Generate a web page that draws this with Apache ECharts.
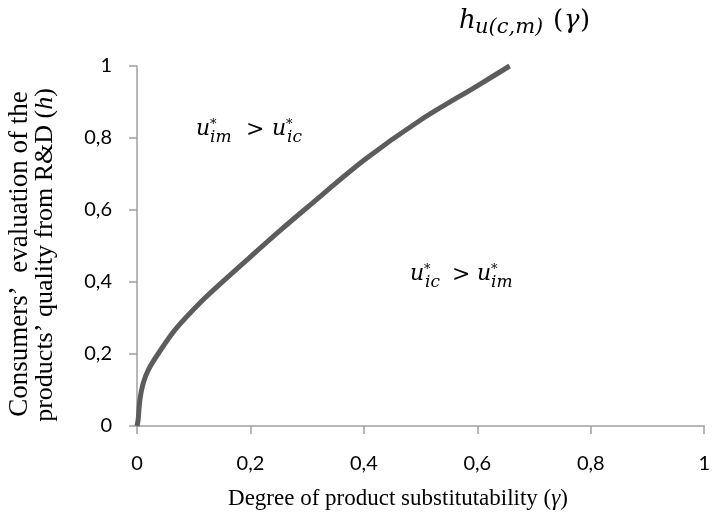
<!DOCTYPE html>
<html>
<head>
<meta charset="utf-8">
<script src="https://cdn.jsdelivr.net/npm/echarts@6/dist/echarts.min.js"></script>
<style>
  html, body { margin: 0; padding: 0; background: #fff; }
  #chart { width: 713px; height: 522px; }
</style>
</head>
<body>
<div id="chart"></div>
<script>
// curve h_u(c,m)(gamma)
var gammaVals = [0, 0.002, 0.005, 0.011, 0.02, 0.037, 0.067, 0.113, 0.154, 0.2, 0.25, 0.3, 0.4, 0.5, 0.6, 0.657];
var hVals     = [0, 0.017, 0.072, 0.119, 0.156, 0.200, 0.267, 0.345, 0.405, 0.470, 0.540, 0.607, 0.738, 0.850, 0.945, 1.0];
var xTicks = [0, 0.2, 0.4, 0.6, 0.8, 1];
var yTicks = [0, 0.2, 0.4, 0.6, 0.8, 1];

var serif = '"Liberation Serif", "Times New Roman", serif';
var mathFont = '"DejaVu Serif", serif';
var sans = 'Lato, "Open Sans", sans-serif';
var axisGray = '#a0a0a0';

var curve = [];
for (var i = 0; i < gammaVals.length; i++) {
    curve.push([gammaVals[i], hVals[i]]);
}

function comma(v) {
    return String(v).replace('.', ',');
}

// small pieces of math text placed one by one, y is the baseline
function mathBits(bits) {
    return bits.map(function (b) {
        return {
            type: 'text',
            x: b[1],
            y: b[2] + Math.round(b[3] * 0.23),
            style: {
                text: b[0],
                font: (b[4] ? 'normal ' : 'italic ') + b[3] + 'px ' + mathFont,
                fill: '#000',
                textAlign: 'left',
                textVerticalAlign: 'bottom'
            }
        };
    });
}

var graphics = []
    .concat(mathBits([
        ['h', 459, 28, 26],
        ['u(c,m)', 475, 33, 21],
        ['(', 553, 28, 26, true],
        ['γ', 564, 28, 26],
        [')', 580, 28, 26, true]
    ]))
    .concat(mathBits([
        ['u', 196, 135, 22],
        ['*', 210, 128, 13, true],
        ['im', 210, 142, 17],
        ['>', 246, 136, 22, true],
        ['u', 272, 135, 22],
        ['*', 286, 128, 13, true],
        ['ic', 287, 142, 17]
    ]))
    .concat(mathBits([
        ['u', 410, 280, 22],
        ['*', 424, 273, 13, true],
        ['ic', 425, 287, 17],
        ['>', 452, 281, 22, true],
        ['u', 477, 280, 22],
        ['*', 491, 273, 13, true],
        ['im', 491, 287, 17]
    ]));

graphics.push({
    type: 'text',
    x: 20, y: 254,
    rotation: Math.PI / 2,
    style: {
        text: 'Consumers\u2019  evaluation of the',
        font: '27px ' + serif,
        fill: '#000',
        textAlign: 'center',
        textVerticalAlign: 'middle'
    }
});
graphics.push({
    type: 'text',
    x: 45, y: 255,
    rotation: Math.PI / 2,
    style: {
        text: '{n|products\u2019 quality from R&D (}{i|h}{n|)}',
        rich: {
            n: { font: '26px ' + serif, fill: '#000' },
            i: { font: 'italic 26px ' + serif, fill: '#000' }
        },
        textAlign: 'center',
        textVerticalAlign: 'middle'
    }
});
graphics.push({
    type: 'text',
    x: 398, y: 499,
    style: {
        text: '{n|Degree of product substitutability (}{i|γ}{n|)}',
        rich: {
            n: { font: '23px ' + serif, fill: '#000' },
            i: { font: 'italic 23px ' + serif, fill: '#000' }
        },
        textAlign: 'center',
        textVerticalAlign: 'middle'
    }
});

var chart = echarts.init(document.getElementById('chart'));
chart.setOption({
    animation: false,
    backgroundColor: '#fff',
    grid: { left: 137, right: 6, top: 66, bottom: 96 },
    xAxis: {
        type: 'value',
        min: xTicks[0],
        max: xTicks[xTicks.length - 1],
        interval: 0.2,
        axisLine: { show: true, lineStyle: { color: axisGray, width: 1.5 } },
        axisTick: { show: true, inside: false, length: 8, lineStyle: { color: axisGray, width: 1.5 } },
        axisLabel: {
            margin: 28,
            fontFamily: sans,
            fontSize: 20,
            color: '#000',
            formatter: comma
        },
        splitLine: { show: false }
    },
    yAxis: {
        type: 'value',
        min: yTicks[0],
        max: yTicks[yTicks.length - 1],
        interval: 0.2,
        axisLine: { show: true, lineStyle: { color: axisGray, width: 1.5 } },
        axisTick: { show: true, inside: false, length: 8, lineStyle: { color: axisGray, width: 1.5 } },
        axisLabel: {
            margin: 25,
            fontFamily: sans,
            fontSize: 20,
            color: '#000',
            formatter: comma
        },
        splitLine: { show: false }
    },
    series: [{
        type: 'line',
        data: curve,
        smooth: 0.3,
        showSymbol: false,
        clip: false,
        lineStyle: { color: '#5c5c5c', width: 5 }
    }],
    graphic: graphics
});
</script>
</body>
</html>
